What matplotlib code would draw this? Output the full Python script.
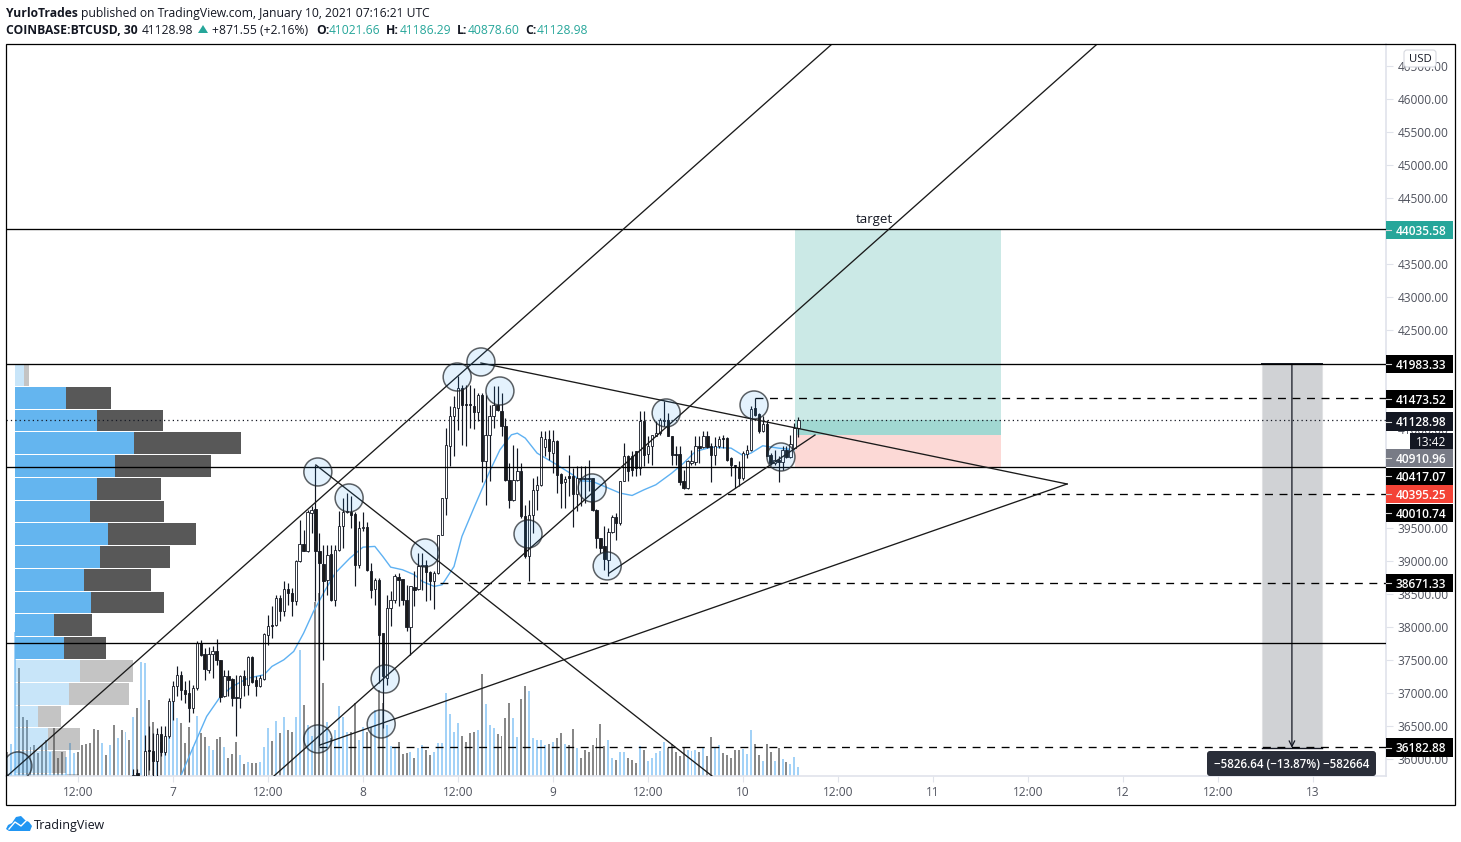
import matplotlib
matplotlib.use("Agg")
import matplotlib.pyplot as plt
from matplotlib.patches import Ellipse, Rectangle, FancyBboxPatch, Polygon
from matplotlib.transforms import Affine2D

plt.rcParams["font.family"] = "Open Sans"

# ----- Candles: first one is bar 14, bar 0 is Jan 6 12:00, one bar is 30 minutes -----
first_candle = 14
opens = [
    35650, 35790, 35620, 35746, 36140, 36115, 35963, 36382, 36100, 36342,
    36872, 37100, 37271, 37049, 37000, 36771, 37074, 37756, 37594, 37352,
    37584, 37630, 37493, 36948, 37251, 37210, 36933, 36923, 37251, 37125,
    37544, 37190, 37100, 37210, 37882, 38029, 38029, 38438, 38236, 38574,
    38514, 38387, 38993, 39256, 39145, 39726, 39786, 39155, 38958, 38705,
    39110, 38412, 39160, 39524, 39736, 39741, 39715, 38943, 39498, 39513,
    38852, 38574, 38716, 37907, 37226, 38286, 38402, 38756, 38726, 38402,
    38000, 38604, 38574, 38918, 38943, 38827, 38690, 38817, 39392, 39953,
    40735, 41190, 41316, 41619, 41377, 41377, 41352, 41251, 41518, 40508,
    40912, 41200, 41367, 41276, 41049, 40220, 39917, 40220, 40367, 39675,
    39069, 39700, 40069, 40145, 40725, 40847, 40635, 40821, 40321, 40190,
    40281, 40291, 40018, 40256, 40256, 40256, 40256, 39776, 39347, 39220,
    39019, 39433, 39665, 39574, 40205, 40584, 40594, 40660, 40407, 41114,
    40619, 40736, 40897, 40937, 41114, 41129, 40897, 40619, 40619, 40215,
    40104, 40483, 40493, 40736, 40725, 40897, 40736, 40599, 40736, 40862,
    40862, 40559, 40448, 40407, 40256, 40624, 40675, 41316, 41225, 40963,
    41079, 40599, 40483, 40523, 40493, 40685, 40574, 40710, 41021.66,
]
highs = [
    35850, 35850, 35700, 36367, 36494, 36392, 36468, 36494, 36494, 36923,
    37175, 37403, 37327, 37175, 37200, 37125, 37781, 37807, 37680, 37695,
    37706, 37817, 37503, 37352, 37352, 37226, 37276, 37276, 37352, 37564,
    37554, 37251, 37276, 37907, 38185, 38311, 38488, 38488, 38690, 38665,
    38589, 39018, 39625, 39473, 39776, 39827, 40458, 39423, 39246, 39246,
    39246, 39246, 39751, 39953, 40029, 39978, 39741, 39599, 39741, 39584,
    38968, 38741, 38741, 37907, 38488, 38539, 38806, 38817, 38726, 38640,
    38625, 38842, 39120, 39120, 39018, 38842, 38842, 39397, 39958, 41013,
    41341, 41493, 41796, 41670, 41670, 41670, 41619, 41543, 41543, 41518,
    41367, 41645, 41645, 41543, 41165, 40483, 40761, 40710, 40483, 39852,
    39930, 40256, 40281, 40963, 40963, 40988, 40988, 40836, 40331, 40281,
    40609, 40407, 40432, 40432, 40432, 40534, 40256, 39786, 39347, 39524,
    39498, 39690, 39726, 40215, 40786, 40609, 40660, 40660, 41266, 41266,
    40887, 40907, 41114, 41165, 41417, 41240, 40897, 40736, 40736, 40382,
    40534, 40685, 40887, 40887, 40963, 40963, 40786, 40877, 40887, 40912,
    40877, 40575, 40448, 40508, 40660, 40761, 41341, 41468, 41240, 41190,
    41139, 40634, 40685, 40584, 40736, 40736, 40912, 41089, 41186.29,
]
lows = [
    35500, 35550, 35400, 35600, 35837, 35700, 35700, 36039, 36064, 36317,
    36595, 36948, 36898, 36847, 36554, 36695, 37049, 37554, 37190, 37302,
    37226, 37428, 36857, 36938, 36948, 36797, 36352, 36771, 36948, 36973,
    37150, 36948, 37095, 37200, 37731, 37832, 38008, 38084, 38160, 38337,
    38160, 38337, 38983, 39145, 39130, 39423, 38387, 36190, 37503, 38488,
    38387, 38311, 39145, 39195, 39726, 39498, 38615, 38892, 39448, 38842,
    38438, 38337, 37150, 36468, 37125, 38019, 38362, 38311, 38337, 37933,
    37579, 38311, 38564, 38564, 38387, 38402, 38271, 38807, 39390, 39700,
    40443, 40584, 40988, 40761, 40736, 41013, 41000, 41114, 40190, 39852,
    40205, 41013, 41266, 40887, 40205, 39801, 39902, 40205, 39650, 39044,
    38690, 39423, 39776, 40140, 40584, 40534, 40331, 40028, 39801, 39801,
    39978, 39513, 39751, 39827, 39877, 40054, 39751, 39195, 39120, 38867,
    38766, 39423, 39321, 39549, 40205, 40205, 40281, 40281, 40306, 40432,
    40483, 40458, 40890, 40912, 41039, 40887, 40458, 40458, 40155, 40089,
    40089, 40458, 40458, 40483, 40710, 40710, 40190, 40458, 40710, 40710,
    40508, 40281, 40104, 40130, 40230, 40559, 40670, 41190, 40937, 40950,
    40584, 40458, 40458, 40190, 40382, 40559, 40560, 40700, 40878.60,
]
closes = [
    35750, 35620, 35690, 36115, 36115, 35963, 36382, 36100, 36342, 36872,
    37100, 37271, 37049, 36988, 36771, 37074, 37756, 37569, 37367, 37594,
    37630, 37493, 36933, 37251, 37200, 36923, 36918, 37251, 37115, 37544,
    37160, 37100, 37226, 37892, 38008, 38008, 38438, 38236, 38574, 38514,
    38387, 38993, 39256, 39155, 39741, 39766, 39145, 38968, 38690, 39094,
    38402, 39170, 39524, 39741, 39751, 39700, 38943, 39498, 39513, 38857,
    38564, 38716, 37882, 37251, 38286, 38413, 38766, 38716, 38402, 38000,
    38615, 38564, 38928, 38943, 38827, 38690, 38817, 39392, 39953, 40751,
    41190, 41331, 41619, 41367, 41357, 41357, 41251, 41518, 40508, 40912,
    41200, 41367, 41281, 41039, 40220, 39917, 40220, 40367, 39675, 39069,
    39700, 40079, 40155, 40872, 40847, 40660, 40821, 40306, 40180, 40240,
    40256, 40018, 40256, 40241, 40241, 40241, 39776, 39347, 39195, 39029,
    39438, 39665, 39574, 40215, 40584, 40357, 40372, 40407, 41114, 40609,
    40736, 40907, 40937, 41139, 41129, 40887, 40609, 40609, 40190, 40104,
    40518, 40508, 40736, 40710, 40897, 40725, 40599, 40736, 40847, 40847,
    40534, 40448, 40432, 40256, 40634, 40685, 41301, 41215, 40963, 41074,
    40594, 40483, 40523, 40493, 40685, 40574, 40776, 41013, 41128.98,
]

# ----- Volume: first one is bar -18, candles above the bottom only start at bar 14 -----
first_volume = -18
early_volume_up = [0, 1, 1, 0, 0, 0, 0, 0, 0, 0, 0, 1, 0, 0, 0, 1, 1, 1, 0, 0,
                   0, 0, 0, 0, 1, 0, 1, 0, 1, 0, 1, 0]
volumes = [
    24, 32, 144, 108, 59, 56, 29, 31, 23, 31,
    36, 24, 48, 18, 24, 19, 33, 23, 24, 31,
    32, 33, 47, 46, 33, 21, 31, 51, 38, 46,
    44, 36, 59, 68, 114, 113, 76, 54, 36, 34,
    29, 73, 76, 58, 53, 33, 49, 29, 60, 43,
    39, 30, 26, 37, 39, 29, 18, 22, 34, 21,
    12, 14, 13, 13, 14, 29, 48, 35, 55, 43,
    59, 46, 44, 59, 126, 71, 51, 40, 174, 183,
    93, 54, 38, 46, 70, 59, 44, 44, 73, 36,
    49, 44, 49, 66, 86, 73, 51, 30, 29, 34,
    22, 23, 24, 18, 28, 31, 26, 21, 24, 33,
    33, 83, 62, 44, 53, 40, 34, 43, 44, 46,
    102, 72, 51, 48, 42, 40, 58, 73, 58, 39,
    77, 90, 85, 38, 36, 36, 31, 32, 34, 38,
    43, 32, 31, 47, 28, 18, 26, 24, 31, 38,
    52, 30, 36, 18, 16, 24, 24, 18, 16, 13,
    30, 26, 15, 18, 23, 25, 34, 28, 32, 24,
    20, 28, 26, 25, 26, 24, 28, 20, 39, 28,
    31, 23, 21, 18, 26, 26, 27, 22, 46, 32,
    21, 15, 32, 24, 15, 28, 17, 14, 12, 19,
    9,
]

# ----- Moving average, read at these bars -----
ma_bars = [26, 29, 32.5, 36, 39, 43, 47, 49, 52, 54.5, 57, 59.5, 62.5, 65, 68.7,
           72, 75, 77, 79, 82, 85, 87, 90, 92, 95, 97, 100, 102, 104, 106.6,
           109.5, 111, 113, 116, 121, 125, 127, 130, 133, 137, 140, 143, 146,
           150, 153, 156, 160, 165, 168, 170, 173, 177, 181]
ma_values = [35746, 36165, 36645, 36948, 37100, 37226, 37276, 37403, 37503, 37630,
             37907, 38236, 38564, 38817, 39044, 39210, 39221, 39069, 38907, 38867,
             38791, 38690, 38615, 38640, 38917, 39372, 39801, 40079, 40357, 40685,
             40912, 40937, 40862, 40634, 40458, 40306, 40215, 40205, 40130, 40028,
             39993, 40079, 40155, 40331, 40483, 40660, 40725, 40710, 40599, 40634,
             40746, 40710, 40685]

# ----- Volume profile rows -----
vp_prices = [41813, 41470, 41129, 40788, 40440, 40091, 39750, 39409, 39061, 38713,
             38372, 38031, 37682, 37334, 36985, 36644, 36303, 35955, 35607]
vp_up = [9, 51, 82, 119, 100, 82, 75, 93, 85, 69, 76, 39, 49, 65, 54, 23, 33, 37, 52]
vp_down = [5, 45, 66, 107, 96, 64, 74, 88, 70, 67, 73, 38, 42, 53, 60, 23, 32, 14, 12]
vp_in_value_area = [0, 1, 1, 1, 1, 1, 1, 1, 1, 1, 1, 1, 1, 0, 0, 0, 0, 0, 0]

# ----- Drawings, as (bar, price) -----
level_prices = [44035.58, 41983.33, 40417.07, 37755]
dashed_prices = [41473.52, 40010.74, 38671.33, 36182.88]
dashed_start_bars = [171, 153, 91.5, 61]
last_price = 41128.98
trend_lines = [
    ((-17.9, 35742), (190.5, 46833)),
    ((49.5, 35742), (257.5, 46833)),
    ((60.1, 40455), (160.2, 35742)),
    ((61.1, 36212), (249.9, 40167)),
    ((101.8, 42000), (249.9, 40167)),
    ((134.2, 38818), (186.2, 40909)),
]
circle_bars = [-15.2, 60.6, 76.6, 77.6, 87.7, 68.5, 60.6, 95.8, 101.8, 106.6,
               113.7, 129.9, 133.7, 148.6, 170.8, 177.6]
circle_prices = [35895, 36304, 36531, 37213, 39122, 39955, 40349, 41788, 42016, 41576,
                 39410, 40107, 38925, 41243, 41364, 40576]

# long position box
pos_bars = (181.2, 233.2)
pos_entry = 40909
pos_target = 44035.58
pos_stop = 40417.07

# measure tool
measure_bars = (299.1, 314.3)
measure_top = 41990
measure_bottom = 36170

# ----- Axis labels -----
time_ticks = list(range(0, 336, 24))
time_labels = ["12:00", "7", "12:00", "8", "12:00", "9", "12:00", "10", "12:00", "11",
               "12:00", "12", "12:00", "13"]
price_ticks = list(range(36000, 47000, 500))

# text, top pixel, bottom pixel, background
price_labels = [
    ("44035.58", 221, 239, "#26a69a"),
    ("41983.33", 355, 373, "#000000"),
    ("41473.52", 390, 408, "#000000"),
    ("41128.98", 412, 431, "#131722"),
    ("40910.96", 449, 467, "#787b86"),
    ("40417.07", 467.5, 485, "#000000"),
    ("40395.25", 485, 503, "#f44336"),
    ("40010.74", 504, 522, "#000000"),
    ("38671.33", 574, 592, "#000000"),
    ("36182.88", 738, 757, "#000000"),
]

# ----- Figure setup -----
W, H = 1461, 842
fig = plt.figure(figsize=(W / 100, H / 100), dpi=100, facecolor="white")
px = Affine2D().scale(1 / W, -1 / H).translate(0, 1) + fig.transFigure

PX_LEFT, PX_RIGHT, PX_TOP, PX_BOTTOM = 6, 1386, 44, 776
PX_PER_BAR = 3.958
PX_PER_PRICE = 0.066


def px_axes(zorder):
    return fig.add_axes([PX_LEFT / W, 1 - PX_BOTTOM / H, (PX_RIGHT - PX_LEFT) / W,
                         (PX_BOTTOM - PX_TOP) / H], zorder=zorder)


xlim = ((PX_LEFT - 78) / PX_PER_BAR, (PX_RIGHT - 78) / PX_PER_BAR)
ylim = (46000 - (PX_BOTTOM - 99) / PX_PER_PRICE, 46000 + (99 - PX_TOP) / PX_PER_PRICE)

# ----- Volume bars (bottom layer) -----
vol_ax = px_axes(1)
vol_ax.axis("off")
vol_ax.set_xlim(xlim)
vol_ax.set_ylim(0, PX_BOTTOM - PX_TOP)
for i, v in enumerate(volumes):
    if i < len(early_volume_up):
        up = early_volume_up[i]
    else:
        k = i - (first_candle - first_volume)
        up = closes[k] >= opens[k]
    vol_ax.bar(first_volume + i, v, width=0.5, color="#a3d2f7" if up else "#888888",
               linewidth=0)

# ----- Volume profile -----
vp_ax = px_axes(2)
vp_ax.axis("off")
vp_ax.set_xlim(-9, PX_RIGHT - PX_LEFT - 9)
vp_ax.set_ylim(ylim)
for p, u, d, main in zip(vp_prices, vp_up, vp_down, vp_in_value_area):
    a = 1.0 if main else 0.35
    vp_ax.barh(p, u, height=330, color="#64b5ef", alpha=a, linewidth=0)
    vp_ax.barh(p, d, left=u, height=330, color="#585858", alpha=a, linewidth=0)

# ----- Main axes -----
ax = px_axes(3)
ax.patch.set_visible(False)
ax.set_xlim(xlim)
ax.set_ylim(ylim)
for side in ["top", "left"]:
    ax.spines[side].set_visible(False)
for side in ["bottom", "right"]:
    ax.spines[side].set_color("#e0e3eb")
    ax.spines[side].set_linewidth(1.2)
ax.yaxis.tick_right()
ax.set_xticks(time_ticks)
ax.set_xticklabels(time_labels)
ax.set_yticks(price_ticks)
ax.set_yticklabels([f"{p:.2f}" for p in price_ticks])
ax.tick_params(axis="x", length=4, width=0.8, color="#e0e3eb", labelcolor="#50535e",
               labelsize=8.6, pad=3)
ax.tick_params(axis="y", length=5, width=0.8, color="#e0e3eb", labelcolor="#50535e",
               labelsize=8.6, pad=3.5)

# position box
ax.add_patch(Rectangle((pos_bars[0], pos_entry), pos_bars[1] - pos_bars[0],
                       pos_target - pos_entry, color="#26a69a", alpha=0.24, lw=0, zorder=1))
ax.add_patch(Rectangle((pos_bars[0], pos_stop), pos_bars[1] - pos_bars[0],
                       pos_entry - pos_stop, color="#f44336", alpha=0.2, lw=0, zorder=1))
ax.add_patch(Rectangle((pos_bars[0], pos_entry), pos_bars[1] - pos_bars[0],
                       last_price - pos_entry, color="#26a69a", alpha=0.25, lw=0, zorder=1))
ax.text(sum(pos_bars) / 2 - 6, pos_target + 45, "target", ha="center", va="bottom",
        fontsize=9.6, color="#131722")

# measure box
ax.add_patch(Rectangle((measure_bars[0], measure_bottom), measure_bars[1] - measure_bars[0],
                       measure_top - measure_bottom, facecolor="#d0d2d5",
                       edgecolor="#e0e1e3", lw=0.8, zorder=1))
ax.plot(measure_bars, [measure_top, measure_top], color="#131722", lw=1.4, zorder=3)
ax.plot(measure_bars, [measure_bottom, measure_bottom], color="#131722", lw=1.0, zorder=3)
ax.annotate("", xy=(sum(measure_bars) / 2, measure_bottom),
            xytext=(sum(measure_bars) / 2, measure_top),
            arrowprops=dict(arrowstyle="->", color="#131722", lw=0.9, shrinkA=0, shrinkB=0),
            zorder=3)

# moving average
ax.plot(ma_bars, ma_values, color="#5eb1f2", lw=1.0, zorder=2)

# candles
for i, (o, h, l, c) in enumerate(zip(opens, highs, lows, closes)):
    bar = first_candle + i
    ax.vlines(bar, l, h, color="#131722", lw=0.85, zorder=3)
    up = c >= o
    ax.add_patch(Rectangle((bar - 0.3, min(o, c)), 0.6, abs(c - o),
                           facecolor="white" if up else "#1a1a1a",
                           edgecolor="#131722", lw=0.6, zorder=4))

# levels
for p in level_prices:
    ax.axhline(p, color="#000000", lw=0.95, zorder=5)
for p, start in zip(dashed_prices, dashed_start_bars):
    ax.plot([start, xlim[1]], [p, p], color="#000000", lw=0.95, ls=(0, (6, 5)), zorder=5)
ax.axhline(last_price, color="#131722", lw=0.9, ls=(0, (1, 2.5)), zorder=5)

# trend lines
for (b0, p0), (b1, p1) in trend_lines:
    ax.plot([b0, b1], [p0, p1], color="#1a1a1a", lw=0.95, zorder=5)

# circles
for b, p in zip(circle_bars, circle_prices):
    ax.add_patch(Ellipse((b, p), 28 / PX_PER_BAR, 28 / PX_PER_PRICE,
                         facecolor=(0.13, 0.59, 0.95, 0.12),
                         edgecolor=(0.12, 0.14, 0.16, 0.72), lw=1.1, zorder=6))

# ----- Overlays in pixel positions -----
fig.add_artist(Rectangle((6, 44), 1449, 761, transform=px, fill=False, edgecolor="black",
                         lw=0.9, zorder=10))

for text, top, bottom, bg in price_labels:
    fig.add_artist(Rectangle((1386, top), 67, bottom - top, transform=px, color=bg, lw=0,
                             zorder=10))
    fig.add_artist(plt.Line2D([1386, 1391], [(top + bottom) / 2] * 2, transform=px,
                              color="#d8d8d8", lw=0.8, zorder=11))
    fig.text(1396, (top + bottom) / 2, text, transform=px, color="white", fontsize=8.6,
             fontweight="semibold", va="center_baseline", ha="left", zorder=11)

fig.add_artist(Rectangle((1410, 433), 43, 16, transform=px, color="#131722", lw=0, zorder=10))
fig.text(1446, 441, "13:42", transform=px, color="white", fontsize=8.6, ha="right",
         va="center_baseline", zorder=11)

fig.add_artist(FancyBboxPatch((1404, 50), 32, 17, transform=px, facecolor="white",
                              edgecolor="#d6d8df", lw=0.8, zorder=10,
                              boxstyle="round,pad=0,rounding_size=3"))
fig.text(1420, 58.5, "USD", transform=px, color="#131722", fontsize=8.2, ha="center",
         va="center_baseline", zorder=11)

fig.add_artist(FancyBboxPatch((1207, 751), 169, 25, transform=px, facecolor="#2a2e39",
                              edgecolor="none", zorder=10,
                              boxstyle="round,pad=0,rounding_size=3"))
fig.text(1291.5, 763.5, "\u22125826.64 (\u221213.87%) \u2212582664", transform=px, color="white",
         fontsize=8.3, fontweight="semibold", ha="center", va="center_baseline", zorder=11)

# ----- Header -----
header = [
    (6, 12, "YurloTrades", "bold", "#131722"),
    (81, 12, "published on TradingView.com, January 10, 2021 07:16:21 UTC", "normal", "#131722"),
    (6, 29, "COINBASE:BTCUSD, 30", "bold", "#131722"),
    (142, 29, "41128.98", "normal", "#131722"),
    (212, 29, "+871.55 (+2.16%)", "normal", "#131722"),
    (316, 29, "O:", "bold", "#131722"),
    (329, 29, "41021.66", "normal", "#26a69a"),
    (386, 29, "H:", "bold", "#131722"),
    (400, 29, "41186.29", "normal", "#26a69a"),
    (457, 29, "L:", "bold", "#131722"),
    (468, 29, "40878.60", "normal", "#26a69a"),
    (525, 29, "C:", "bold", "#131722"),
    (537, 29, "41128.98", "normal", "#26a69a"),
]
for x, y, text, weight, color in header:
    fig.text(x, y, text, transform=px, fontsize=8.7, fontweight=weight, color=color,
             va="center_baseline", ha="left", zorder=11)
fig.add_artist(Polygon([(198, 33), (208, 33), (203, 25)], transform=px, color="#26a69a", lw=0))

# ----- TradingView logo -----
fig.add_artist(Polygon([(6, 829), (8, 825), (12, 823), (16, 817), (21, 816), (25, 820),
                        (29, 822), (32, 826), (30, 831), (9, 831)],
                       transform=px, color="#2196f3", lw=0, zorder=10))
fig.add_artist(plt.Line2D([9, 15, 21, 27], [829, 822, 826, 820], transform=px, color="white",
                          lw=1.0, zorder=11))
fig.text(34, 824, "TradingView", transform=px, fontsize=9.0, color="#131722",
         va="center_baseline", ha="left", zorder=11)

fig.savefig("out.png", dpi=100, facecolor="white")
